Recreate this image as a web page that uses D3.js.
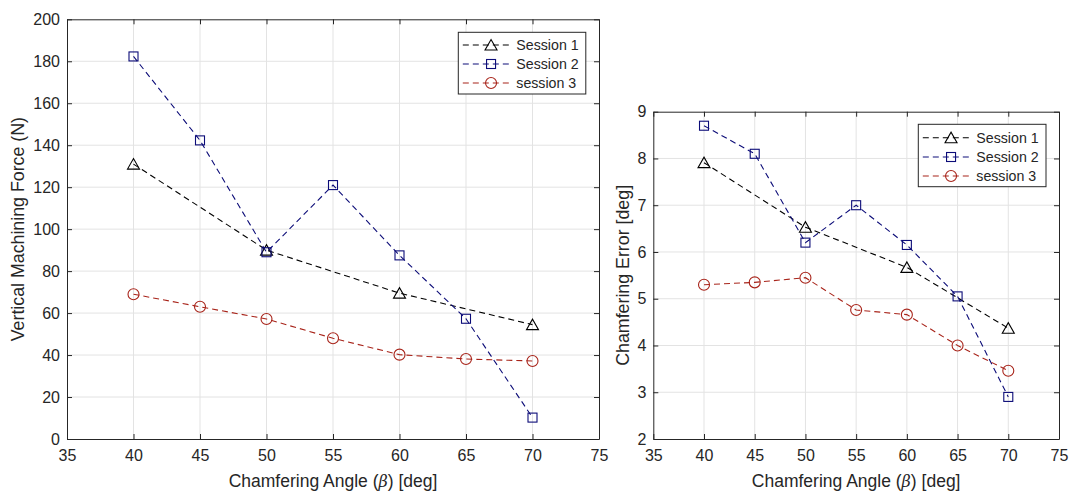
<!DOCTYPE html>
<html>
<head>
<meta charset="utf-8">
<script src="https://cdn.jsdelivr.net/npm/d3@7"></script>
<style>
  html, body { margin: 0; padding: 0; background: #fff; }
  svg { display: block; }
  text { font-family: "Liberation Sans", Arial, Helvetica, sans-serif; fill: #262626; }
</style>
</head>
<body>
<svg id="chart" width="1070" height="494"></svg>
<script>
// ---------- data ----------
const seriesNames = ["Session 1", "Session 2", "session 3"];
const xTicks = [35, 40, 45, 50, 55, 60, 65, 70, 75];

// Left plot: Vertical Machining Force (N)
const forceS1x = [40, 50, 60, 70];
const forceS1y = [131, 90, 69.5, 54.5];
const forceS2x = [40, 45, 50, 55, 60, 65, 70];
const forceS2y = [182.3, 142.3, 89, 121, 87.5, 57.3, 10.2];
const forceS3x = [40, 45, 50, 55, 60, 65, 70];
const forceS3y = [69, 63, 57.2, 48, 40.2, 38.1, 37.2];
const forceTicks = [0, 20, 40, 60, 80, 100, 120, 140, 160, 180, 200];

// Right plot: Chamfering Error [deg]
const errS1x = [40, 50, 60, 70];
const errS1y = [7.91, 6.53, 5.67, 4.37];
const errS2x = [40, 45, 50, 55, 60, 65, 70];
const errS2y = [8.7, 8.1, 6.2, 7.0, 6.15, 5.05, 2.9];
const errS3x = [40, 45, 50, 55, 60, 65, 70];
const errS3y = [5.3, 5.35, 5.45, 4.76, 4.66, 4.0, 3.46];
const errTicks = [2, 3, 4, 5, 6, 7, 8, 9];

// ---------- styles ----------
const colors = ["#000000", "#0c0c78", "#a8241a"];
const markers = ["triangle", "square", "circle"];
const axisColor = "#262626";
const gridColor = "#e3e3e3";

const svg = d3.select("#chart");

function drawMarker(g, type, x, y, color) {
  if (type === "triangle") {
    g.append("path")
      .attr("d", `M${x - 6},${y + 5} L${x + 6},${y + 5} L${x},${y - 5.5} Z`)
      .attr("fill", "none").attr("stroke", color).attr("stroke-width", 1.1);
  } else if (type === "square") {
    g.append("rect")
      .attr("x", x - 4.5).attr("y", y - 4.5).attr("width", 9).attr("height", 9)
      .attr("fill", "none").attr("stroke", color).attr("stroke-width", 1.1);
  } else {
    g.append("circle")
      .attr("cx", x).attr("cy", y).attr("r", 5.5)
      .attr("fill", "none").attr("stroke", color).attr("stroke-width", 1.1);
  }
}

function drawPanel(cfg) {
  const { left, right, top, bottom, yDomain, yTicks, series, yLabel, yLabelX, legend } = cfg;
  const x = d3.scaleLinear().domain([35, 75]).range([left, right]);
  const y = d3.scaleLinear().domain(yDomain).range([bottom, top]);
  const g = svg.append("g");

  // grid
  g.append("g").selectAll("line").data(xTicks.slice(1, -1)).join("line")
    .attr("x1", d => x(d)).attr("x2", d => x(d))
    .attr("y1", top).attr("y2", bottom)
    .attr("stroke", gridColor).attr("stroke-width", 1);
  g.append("g").selectAll("line").data(yTicks.slice(1, -1)).join("line")
    .attr("y1", d => y(d)).attr("y2", d => y(d))
    .attr("x1", left).attr("x2", right)
    .attr("stroke", gridColor).attr("stroke-width", 1);

  // axes (d3 axes with inward ticks)
  const tickLen = 5;
  const fmt = d3.format("d");
  const ax = g.append("g").attr("transform", `translate(0,${bottom})`)
    .call(d3.axisBottom(x).tickValues(xTicks).tickFormat(fmt).tickSize(-tickLen).tickPadding(11).tickSizeOuter(0));
  const axTop = g.append("g").attr("transform", `translate(0,${top})`)
    .call(d3.axisTop(x).tickValues(xTicks).tickSize(-tickLen).tickFormat("").tickSizeOuter(0));
  const ay = g.append("g").attr("transform", `translate(${left},0)`)
    .call(d3.axisLeft(y).tickValues(yTicks).tickFormat(fmt).tickSize(-tickLen).tickPadding(7).tickSizeOuter(0));
  const ayR = g.append("g").attr("transform", `translate(${right},0)`)
    .call(d3.axisRight(y).tickValues(yTicks).tickSize(-tickLen).tickFormat("").tickSizeOuter(0));
  [ax, axTop, ay, ayR].forEach(a => {
    a.select(".domain").attr("stroke", axisColor).attr("stroke-width", 1);
    a.selectAll(".tick line").attr("stroke", axisColor).attr("stroke-width", 1);
    a.selectAll(".tick text").attr("fill", axisColor)
      .style("font-size", "16px")
      .style("font-family", '"Liberation Sans", Arial, Helvetica, sans-serif');
  });
  ax.selectAll(".tick text").attr("dy", "0.71em");

  // data
  series.forEach((s, i) => {
    const pts = s.xs.map((xv, k) => [x(xv), y(s.ys[k])]);
    g.append("path")
      .attr("d", d3.line()(pts))
      .attr("fill", "none").attr("stroke", colors[i])
      .attr("stroke-width", 1.1).attr("stroke-dasharray", "6,4");
    pts.forEach(p => drawMarker(g, markers[i], p[0], p[1], colors[i]));
  });

  // axis labels
  const xl = g.append("text")
    .attr("x", (left + right) / 2).attr("y", 487)
    .attr("text-anchor", "middle").style("font-size", "17.5px");
  xl.append("tspan").text("Chamfering Angle (");
  xl.append("tspan").text("β").style("font-style", "italic")
    .style("font-family", '"DejaVu Serif", "Liberation Serif", serif').style("font-size", "16px");
  xl.append("tspan").text(") [deg]");

  g.append("text")
    .attr("transform", `translate(${yLabelX},${(top + bottom) / 2}) rotate(-90)`)
    .attr("text-anchor", "middle").attr("dy", "0.35em")
    .style("font-size", "17.8px").text(yLabel);

  // legend
  const lg = g.append("g");
  lg.append("rect")
    .attr("x", legend.x).attr("y", legend.y)
    .attr("width", legend.w).attr("height", legend.h)
    .attr("fill", "#fff").attr("stroke", axisColor).attr("stroke-width", 1);
  seriesNames.forEach((name, i) => {
    const ry = legend.rows[i];
    const lx1 = legend.x + 4.5, lx2 = legend.x + 52;
    lg.append("line")
      .attr("x1", lx1).attr("x2", lx2).attr("y1", ry).attr("y2", ry)
      .attr("stroke", colors[i]).attr("stroke-width", 1.1).attr("stroke-dasharray", "6,4");
    drawMarker(lg, markers[i], (lx1 + lx2) / 2 + 4.5, ry, colors[i]);
    lg.append("text")
      .attr("x", legend.x + 58).attr("y", ry).attr("dy", "0.36em")
      .style("font-size", "14.2px").text(name);
  });
}

drawPanel({
  left: 67, right: 599, top: 19.3, bottom: 439,
  yDomain: [0, 200], yTicks: forceTicks,
  series: [
    { xs: forceS1x, ys: forceS1y },
    { xs: forceS2x, ys: forceS2y },
    { xs: forceS3x, ys: forceS3y }
  ],
  yLabel: "Vertical Machining Force (N)", yLabelX: 18,
  legend: { x: 458.3, y: 32.3, w: 127.5, h: 61.7, rows: [45, 64, 83] }
});

drawPanel({
  left: 653.3, right: 1059, top: 111.7, bottom: 439,
  yDomain: [2, 9], yTicks: errTicks,
  series: [
    { xs: errS1x, ys: errS1y },
    { xs: errS2x, ys: errS2y },
    { xs: errS3x, ys: errS3y }
  ],
  yLabel: "Chamfering Error [deg]", yLabelX: 623,
  legend: { x: 918.3, y: 124.3, w: 127.7, h: 62.4, rows: [137.7, 157, 176] }
});
</script>
</body>
</html>
